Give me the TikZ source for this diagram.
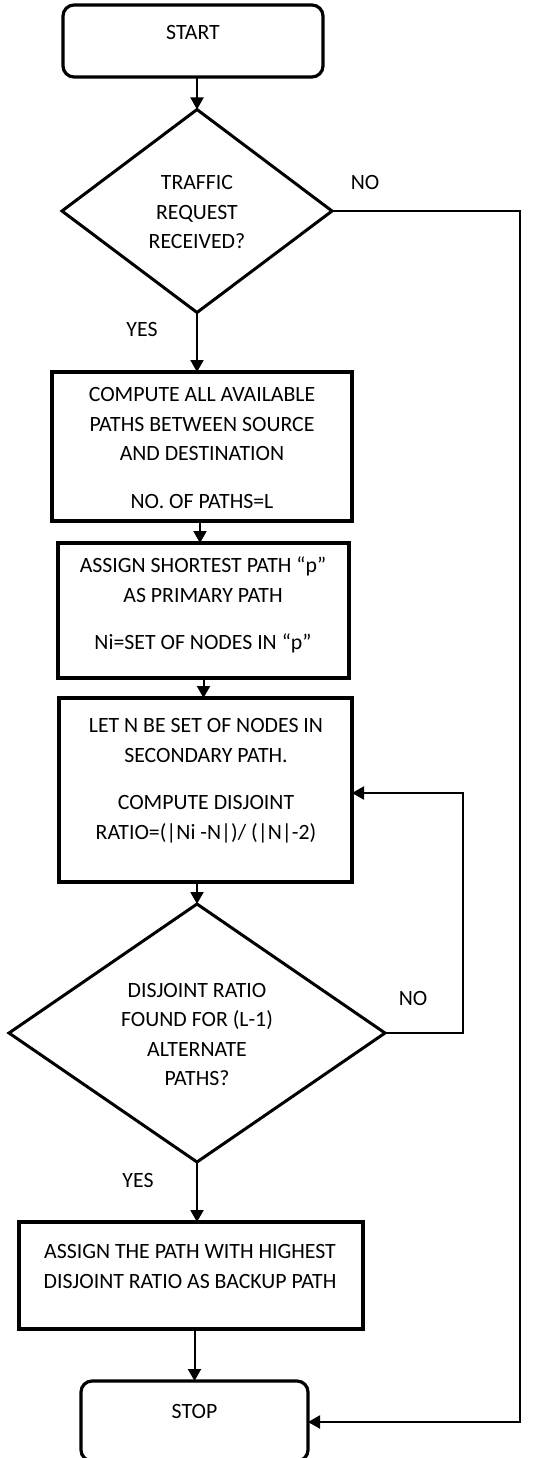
\documentclass[tikz,border=0pt]{standalone}
\usepackage{fontspec}
\setmainfont{Carlito}
\usetikzlibrary{shapes.geometric,arrows.meta}
\begin{document}
\begin{tikzpicture}[x=1pt,y=-1pt,
  outline/.style={draw,line width=3.2pt,inner sep=0pt,outer sep=0pt},
  procbox/.style={outline,rectangle},
  termbox/.style={outline,rectangle,rounded corners=11pt},
  decision/.style={outline,diamond,line width=3pt},
  txt/.style={align=center,inner sep=0pt,font=\fontsize{21.8}{29.5}\selectfont},
  lbl/.style={inner sep=0pt,font=\fontsize{21.8}{29.5}\selectfont},
  arr/.style={line width=2pt,-{Triangle[width=13pt,length=12pt]}}]
\useasboundingbox (0,0) rectangle (540,1458);

% shapes
\node[termbox,minimum width=260pt,minimum height=72pt] (start) at (193,41) {};
\node[decision,minimum width=270pt,minimum height=203pt] (d1) at (197,211) {};
\node[procbox,minimum width=300pt,minimum height=149pt] (b1) at (202,446.5) {};
\node[procbox,minimum width=291pt,minimum height=135pt] (b2) at (203.5,610.5) {};
\node[procbox,minimum width=293pt,minimum height=184pt] (b3) at (205.5,790) {};
\node[decision,minimum width=376pt,minimum height=258pt] (d2) at (197,1033) {};
\node[procbox,minimum width=344pt,minimum height=107pt] (b4) at (191,1275.5) {};
\node[termbox,minimum width=227pt,minimum height=80pt] (stop) at (194.5,1421) {};

% texts
\node[txt] (tstart) at (193,33) {START};
\node[txt] (td1) at (197,212.5) {TRAFFIC\\REQUEST\\RECEIVED?};
\node[txt] (tb1) at (202,448) {COMPUTE ALL AVAILABLE\\PATHS BETWEEN SOURCE\\AND DESTINATION\\[18pt]NO. OF PATHS=L};
\node[txt] (tb2) at (203,605) {ASSIGN SHORTEST PATH “p”\\AS PRIMARY PATH\\[18pt]Ni=SET OF NODES IN “p”};
\node[txt] (tb3) at (206,780.5) {LET N BE SET OF NODES IN\\SECONDARY PATH.\\[18pt]COMPUTE DISJOINT\\RATIO=(|Ni -N|)/ (|N|-2)};
\node[txt] (td2) at (197,1034.5) {DISJOINT RATIO\\FOUND FOR (L-1)\\ALTERNATE\\PATHS?};
\node[txt] (tb4) at (190,1266.5) {ASSIGN THE PATH WITH HIGHEST\\DISJOINT RATIO AS BACKUP PATH};
\node[txt] (tstop) at (194.5,1411) {STOP};

% branch labels
\node[lbl] (no1) at (365,183) {NO};
\node[lbl] (yes1) at (142,329) {YES};
\node[lbl] (no2) at (413,998) {NO};
\node[lbl] (yes2) at (138,1180) {YES};

% turning points of the return lines
\coordinate (loop) at (463,793);
\coordinate (rside) at (520,1422);

% connectors
\draw[arr] (d1.north |- start.south) -- (d1.north);
\draw[arr] (d1.south) -- (d1.south |- b1.north);
\draw[arr] ([xshift=-2pt]b1.south) -- ([xshift=-2pt]b1.south |- b2.north);
\draw[arr] (b2.south) -- (b2.south |- b3.north);
\draw[arr] (d2.north |- b3.south) -- (d2.north);
\draw[arr] (d2.south) -- (d2.south |- b4.north);
\draw[arr] (stop.north |- b4.south) -- (stop.north);
\draw[arr] (d2.east) -| (loop) -- (loop -| b3.east);
\draw[arr] (d1.east) -| (rside) -- (rside -| stop.east);
\end{tikzpicture}
\end{document}
